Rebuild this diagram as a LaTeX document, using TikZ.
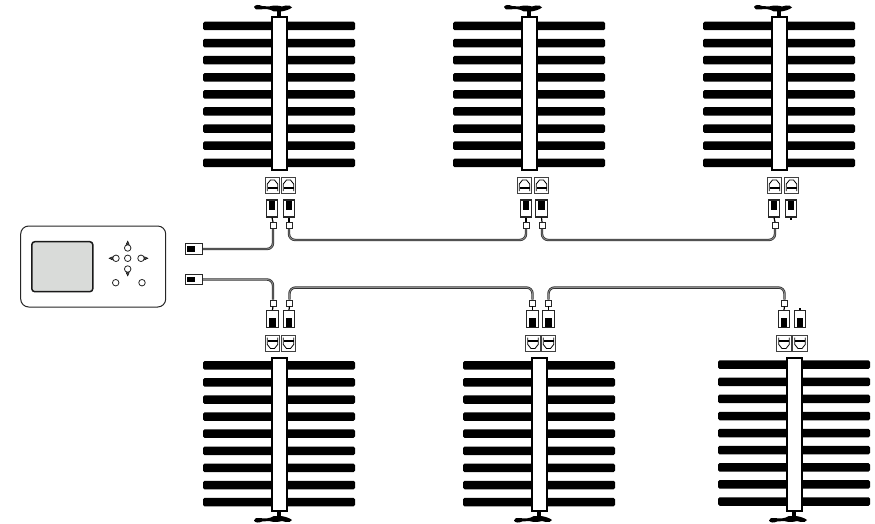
\documentclass[tikz,border=0pt]{standalone}
\usepackage{xcolor}
\definecolor{screengray}{HTML}{D9DBD9}
\tikzset{
    finbar/.style={
        fill=black,
        rounded corners=1.5pt,
        minimum width=152pt,
        minimum height=8.5pt,
        inner sep=0pt
    },
    postbox/.style={
        draw=black,
        fill=white,
        line width=2pt,
        minimum width=15pt,
        minimum height=153pt,
        inner sep=0pt
    },
    jackbox/.style={
        draw=black!75,
        fill=white,
        line width=1pt,
        minimum width=14.5pt,
        minimum height=16pt,
        inner sep=0pt
    },
    plugbox/.style={
        draw=black!85,
        fill=white,
        line width=1.2pt,
        minimum width=11.5pt,
        minimum height=17pt,
        inner sep=0pt
    },
    plugcore/.style={
        fill=black,
        minimum width=6.5pt,
        minimum height=9pt,
        inner sep=0pt
    },
    tinysq/.style={
        draw=black!85,
        fill=white,
        line width=0.9pt,
        minimum size=6pt,
        inner sep=0pt
    },
    cable/.style={
        draw=black!80,
        line width=0.8pt,
        double=black!45,
        double distance=0.8pt,
        rounded corners=6pt
    },
    stem/.style={
        draw=black,
        line width=1.2pt
    },
    keyring/.style={
        circle,
        draw=black!85,
        fill=white,
        line width=0.8pt,
        minimum size=6.5pt,
        inner sep=0pt
    },
    endbox/.style={
        draw=black!85,
        fill=white,
        line width=1.3pt,
        minimum width=17pt,
        minimum height=10.5pt,
        inner sep=0pt
    },
    endcore/.style={
        fill=black,
        minimum width=8.5pt,
        minimum height=5.5pt,
        inner sep=0pt
    },
    valve/.pic={
        \fill (-25,-9) .. controls (-24,-11.5) and (-20,-11.5) .. (-17,-10) -- (-10,-9.5)
            .. controls (-5,-11) and (0,-10.5) .. (3,-9.5) -- (7,-10.5)
            .. controls (10,-11) and (12,-10) .. (13,-8.5)
            .. controls (10,-6) and (5,-5) .. (2,-4.5) -- (-5,-4.5)
            .. controls (-9,-7) and (-14,-7.5) .. (-19,-6.5)
            .. controls (-22,-6) and (-25,-6.5) .. cycle;
        \fill (-2,-5) rectangle (2,0);
    },
    socketface/.pic={
        \draw[line width=0.8pt] (-5.2,6) -- (-5.2,-1) -- (-2,-5) -- (2,-5) -- (5.2,-1) -- (5.2,6);
        \fill (-5,1.5) rectangle (5,4);
    }
}

\begin{document}
\begin{tikzpicture}[x=1pt,y=-1pt]
  \useasboundingbox (0,0) rectangle (875,524);

  % radiators above the cables
  \foreach \nm/\px/\ja/\jb/\pa/\pb in {a/279/272.5/288.5/272/289, b/529/524.5/541.5/526/541.5, c/779/774.5/791.5/774/791} {
    \foreach \i in {0,...,8}
      \node[finbar] (fin\nm\i) at (\px,{26+17.1*\i}) {};
    \node[postbox] (post\nm) at (\px,93.5) {};
    \pic at (post\nm.north) {valve};
    \node[jackbox] (jack\nm1) at (\ja,185) {};
    \node[jackbox] (jack\nm2) at (\jb,185) {};
    \pic at (jack\nm1) {socketface};
    \pic at (jack\nm2) {socketface};
    \node[plugbox] (plug\nm1) at (\pa,208.5) {};
    \node[plugbox] (plug\nm2) at (\pb,208.5) {};
    \node[plugcore] (core\nm1) at (\pa,205.5) {};
    \node[plugcore] (core\nm2) at (\pb,205.5) {};
  }

  % radiators below the cables
  \foreach \nm/\px/\fy/\ja/\jb/\pa/\pb in {d/279/365.3/272.5/288.5/272.5/289, e/539/365.3/533/548.5/532.5/548.5, f/794/364.7/784/800/784/800} {
    \foreach \i in {0,...,8}
      \node[finbar] (fin\nm\i) at (\px,{\fy+17.1*\i}) {};
    \node[postbox] (post\nm) at (\px,434) {};
    \pic[yscale=-1] at (post\nm.south) {valve};
    \node[jackbox] (jack\nm1) at (\ja,343.5) {};
    \node[jackbox] (jack\nm2) at (\jb,343.5) {};
    \pic[yscale=-1] at (jack\nm1) {socketface};
    \pic[yscale=-1] at (jack\nm2) {socketface};
    \node[plugbox] (plug\nm1) at (\pa,319) {};
    \node[plugbox] (plug\nm2) at (\pb,319) {};
    \node[plugcore] (core\nm1) at (\pa,322.5) {};
    \node[plugcore] (core\nm2) at (\pb,322.5) {};
  }

  % small squares on the cable ends
  \node[tinysq] (sqa1) at (273,225.5) {};
  \node[tinysq] (sqa2) at (289,225.5) {};
  \node[tinysq] (sqb1) at (526,225.5) {};
  \node[tinysq] (sqb2) at (542,225.5) {};
  \node[tinysq] (sqc1) at (775,225.5) {};
  \node[tinysq] (sqd1) at (273,303) {};
  \node[tinysq] (sqd2) at (289.5,303) {};
  \node[tinysq] (sqe1) at (532.5,303) {};
  \node[tinysq] (sqe2) at (548.5,303) {};
  \node[tinysq] (sqf1) at (784.5,303) {};

  \coordinate (stubc) at (791,220);
  \coordinate (stubf) at (800,307.5);

  \foreach \nm in {a1,a2,b1,b2,c1} \draw[stem] (plug\nm.south) -- (sq\nm.north);
  \foreach \nm in {d1,d2,e1,e2,f1} \draw[stem] (plug\nm.north) -- (sq\nm.south);
  \draw[stem] (plugc2.south) -- (stubc);
  \draw[stem] (plugf2.north) -- (stubf);

  % plugs that go to the controller
  \node[endbox] (endtop) at (194,249) {};
  \node[endcore] (endtopcore) at (191,249) {};
  \node[endbox] (endbot) at (194,279.5) {};
  \node[endcore] (endbotcore) at (191,279.5) {};

  \draw[cable] (sqa1.south) |- (endtop.east);
  \draw[cable] (sqa2.south) -- ++(0,11) -| (sqb1.south);
  \draw[cable] (sqb2.south) -- ++(0,11) -| (sqc1.south);
  \draw[cable] (sqd1.north) |- (endbot.east);
  \draw[cable] (sqd2.north) -- ++(0,-12) -| (sqe1.north);
  \draw[cable] (sqe2.north) -- ++(0,-12) -| (sqf1.north);

  % controller
  \node[draw=black!85, fill=white, line width=1pt, rounded corners=8pt, minimum width=145pt, minimum height=81pt, inner sep=0pt] (panel) at (93.2,266.5) {};
  \node[draw=black!90, fill=screengray, line width=1.5pt, rounded corners=3pt, minimum width=61pt, minimum height=50pt, inner sep=0pt] (screen) at (62.3,266.7) {};
  \node[keyring] (keymid) at (127.7,258.3) {};
  \node[keyring] (keyup) at (127.7,248) {};
  \node[keyring] (keydown) at (127.7,269) {};
  \node[keyring] (keyleft) at (116,258.3) {};
  \node[keyring] (keyright) at (141,258.3) {};
  \node[keyring] (keyone) at (115.7,282.7) {};
  \node[keyring] (keytwo) at (142,282.7) {};
  \draw[line width=0.5pt, fill=black!70] (keyup.north) ++(-1.5,0) -- ++(1.5,-3.2) -- ++(1.5,3.2) -- cycle;
  \draw[line width=0.5pt, fill=black!70] (keydown.south) ++(-1.5,0) -- ++(1.5,3.2) -- ++(1.5,-3.2) -- cycle;
  \draw[line width=0.5pt, fill=black!70] (keyleft.west) ++(0,-1.5) -- ++(-3.2,1.5) -- ++(3.2,1.5) -- cycle;
  \draw[line width=0.5pt, fill=black!70] (keyright.east) ++(0,-1.5) -- ++(3.2,1.5) -- ++(-3.2,1.5) -- cycle;
\end{tikzpicture}
\end{document}
